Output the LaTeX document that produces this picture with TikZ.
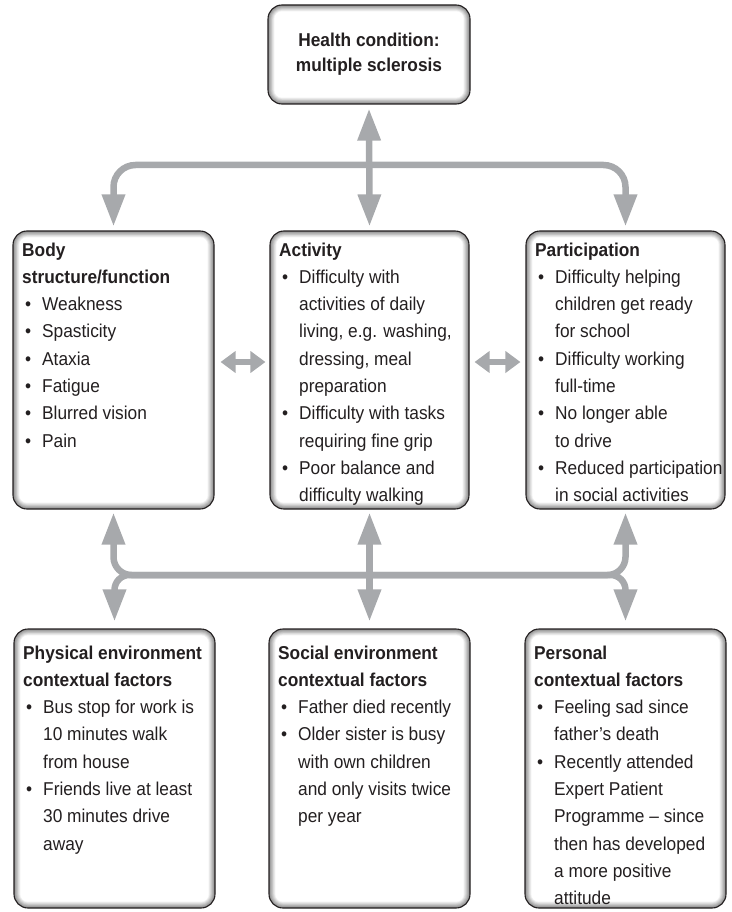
\documentclass[tikz,border=0pt]{standalone}
\usepackage{fontspec}
\setmainfont{Liberation Sans}[FakeStretch=0.93]
\usetikzlibrary{arrows.meta,fit}

\definecolor{arrowgray}{RGB}{167,169,172}
\definecolor{ink}{RGB}{35,31,32}

% bullet item with hanging indent
\newcommand\bul[1]{\par\hangindent=20pt\hangafter=1\leavevmode\hbox to 20pt{\hskip3pt\textbullet\hfil}#1\par}
% bold heading lines
\newcommand\hdg[1]{{\bfseries #1\par}}
% top-aligned text block whose baseline is its first line
\newcommand\txtblock[2]{\vtop{\hsize=#1\parindent=0pt\parskip=0pt\raggedright\fontsize{18.6}{27.3}\selectfont #2}}

\tikzset{
  panelbox/.style={draw=ink, line width=1.1pt, rounded corners=14pt, inner sep=0pt},
  bigarrow/.style={draw=arrowgray, line width=6.5pt, {Triangle[length=32pt,width=22pt]}-{Triangle[length=32pt,width=22pt]}},
  smallarrow/.style={draw=arrowgray, line width=6pt, {Triangle[length=15pt,width=21pt]}-{Triangle[length=15pt,width=21pt]}},
  body text/.style={anchor=base west, inner sep=0pt, text=ink}
}

% rounded box with a soft inner shadow: name, left, top, right, bottom
\newcommand\panel[5]{%
  \foreach \k in {0,...,9}{%
    \pgfmathsetmacro\pshade{45-5*\k}%
    \pgfmathsetmacro\pins{0.7*\k}%
    \pgfmathsetmacro\prad{14-0.7*\k}%
    \fill[black!\pshade, rounded corners=\prad pt] ({#2+\pins},{#3+\pins}) rectangle ({#4-\pins},{#5-\pins});
  }%
  \node[panelbox, fit={(#2,#3) (#4,#5)}] (#1) {};
}

\begin{document}
\begin{tikzpicture}[x=1pt,y=-1pt]
\useasboundingbox (0,0) rectangle (731,912);

% boxes
\panel{cond}{268}{5}{470}{104}
\panel{body}{13}{231}{214}{509}
\panel{act}{270}{231}{469}{509}
\panel{part}{526}{231}{725}{509}
\panel{phys}{14}{629}{215}{908}
\panel{soc}{269}{629}{470}{908}
\panel{pers}{525}{629}{726}{908}

% texts
\node[font=\fontsize{18.6}{25}\selectfont\bfseries, align=center, text=ink] (condT) at (cond.center) {Health condition:\\multiple sclerosis};

\node[body text] (bodyT) at (22,256) {\txtblock{195pt}{%
  \hdg{Body\newline structure/function}%
  \bul{Weakness}\bul{Spasticity}\bul{Ataxia}\bul{Fatigue}\bul{Blurred vision}\bul{Pain}}};

\node[body text] (actT) at (279,256) {\txtblock{195pt}{%
  \hdg{Activity}%
  \bul{Difficulty with\newline activities of daily\newline living, e.g. washing,\newline dressing, meal\newline preparation}%
  \bul{Difficulty with tasks\newline requiring fine grip}%
  \bul{Poor balance and\newline difficulty walking}}};

\node[body text] (partT) at (535,256) {\txtblock{195pt}{%
  \hdg{Participation}%
  \bul{Difficulty helping\newline children get ready\newline for school}%
  \bul{Difficulty working\newline full-time}%
  \bul{No longer able\newline to drive}%
  \bul{Reduced participation\newline in social activities}}};

\node[body text] (physT) at (23,659) {\txtblock{195pt}{%
  \hdg{Physical environment\newline contextual factors}%
  \bul{Bus stop for work is\newline 10 minutes walk\newline from house}%
  \bul{Friends live at least\newline 30 minutes drive\newline away}}};

\node[body text] (socT) at (278,659) {\txtblock{195pt}{%
  \hdg{Social environment\newline contextual factors}%
  \bul{Father died recently}%
  \bul{Older sister is busy\newline with own children\newline and only visits twice\newline per year}}};

\node[body text] (persT) at (534,659) {\txtblock{195pt}{%
  \hdg{Personal\newline contextual factors}%
  \bul{Feeling sad since\newline father’s death}%
  \bul{Recently attended\newline Expert Patient\newline Programme – since\newline then has developed\newline a more positive\newline attitude}}};

% junction points of the branching connectors
\coordinate (barT) at (369,165);
\coordinate (barB) at (370,575);

% health condition to the three components
\draw[bigarrow] ([yshift=-4pt]cond.south) -- ([yshift=4pt]act.north);
\draw[bigarrow, rounded corners=22pt] ([yshift=4pt]body.north) |- (barT) -| ([yshift=4pt]part.north);

% links between the components
\draw[smallarrow] ([xshift=6pt,yshift=8pt]body.east) -- ([xshift=-4pt,yshift=8pt]act.west);
\draw[smallarrow] ([xshift=5pt,yshift=8pt]act.east) -- ([xshift=-5pt,yshift=8pt]part.west);

% components to the contextual factors
\draw[bigarrow] ([yshift=-3pt]act.south) -- ([yshift=7pt]soc.north);
\draw[bigarrow, rounded corners=18pt] ([yshift=-3pt]body.south) |- (barB) -| ([yshift=-3pt]part.south);
\draw[bigarrow, rounded corners=15pt] ([yshift=7pt]phys.north) |- (barB) -| ([yshift=7pt]pers.north);
\end{tikzpicture}
\end{document}
